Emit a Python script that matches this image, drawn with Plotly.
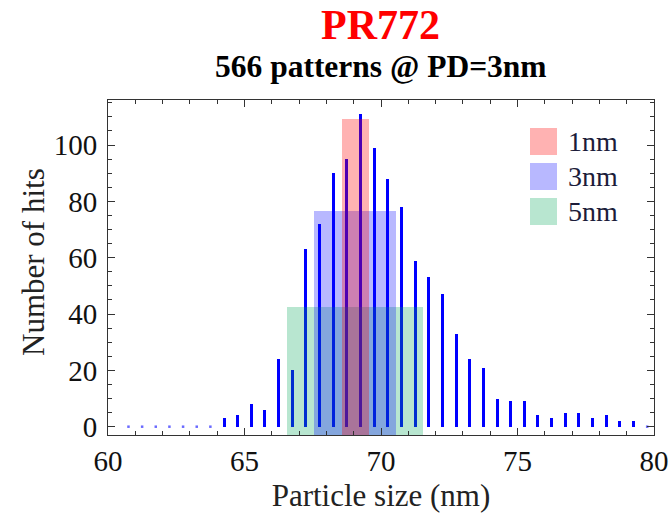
import plotly.graph_objects as go

# ---- data ----
bin_centers = [60.75, 61.25, 61.75, 62.25, 62.75, 63.25, 63.75,
               64.25, 64.75, 65.25, 65.75, 66.25, 66.75, 67.25, 67.75,
               68.25, 68.75, 69.25, 69.75, 70.25, 70.75, 71.25, 71.75,
               72.25, 72.75, 73.25, 73.75, 74.25, 74.75, 75.25, 75.75,
               76.25, 76.75, 77.25, 77.75, 78.25, 78.75, 79.25, 79.75]
hits = [0, 0, 0, 0, 0, 0, 0,
        3, 4, 8, 6, 24, 20, 63, 72,
        90, 95, 111, 99, 88, 78, 59, 53,
        47, 33, 24, 21, 10, 9, 9, 4,
        3, 5, 5, 3, 4, 2, 2, 0]

window_labels = ["1nm", "3nm", "5nm"]
window_center = [69.06, 69.05, 69.05]
window_width = [1.0, 3.0, 5.0]
window_height = [109.2, 76.5, 42.5]
window_colors = ["rgba(255,0,0,0.30)", "rgba(0,0,255,0.28)", "rgba(0,165,85,0.28)"]

x_ticks = [60, 65, 70, 75, 80]
y_ticks = [0, 20, 40, 60, 80, 100]

title_text = "PR772"
subtitle_text = "566 patterns @ PD=3nm"
x_title = "Particle size (nm)"
y_title = "Number of hits"

# ---- layout constants ----
W, H = 672, 515
ML, MR, MT, MB = 108, 18, 100, 80
YMIN, YMAX = -2.95, 116.0
SERIF = "Liberation Serif, Times New Roman, serif"

fig = go.Figure()

nz_x = [x for x, v in zip(bin_centers, hits) if v > 0]
nz_y = [v for v in hits if v > 0]
z_x = [x for x, v in zip(bin_centers, hits) if v == 0]
z_y = [v for v in hits if v == 0]

fig.add_trace(go.Bar(x=nz_x, y=nz_y, width=0.11, marker=dict(color="#0000ff", line=dict(width=0)),
                     showlegend=False))
fig.add_trace(go.Scatter(x=z_x, y=z_y, mode="markers",
                         marker=dict(color="#6a6aff", size=2.5, symbol="square"),
                         showlegend=False))

# window rectangles (drawn from bottom of frame)
for i in [2, 1, 0]:
    fig.add_trace(go.Bar(x=[window_center[i]], y=[window_height[i] - YMIN], base=YMIN,
                         width=window_width[i],
                         marker=dict(color=window_colors[i], line=dict(width=0)),
                         showlegend=False))

pw = W - ML - MR
ph = H - MT - MB
def px_x(px):
    return (px - ML) / pw
def px_y(py):
    return (H - MB - py) / ph

# manual legend
sw_tops = [128, 163, 198]
for i, lab in enumerate(window_labels):
    t = sw_tops[i]
    fig.add_shape(type="rect", xref="paper", yref="paper",
                  x0=px_x(530), x1=px_x(557), y0=px_y(t + 27), y1=px_y(t),
                  fillcolor=window_colors[i], line=dict(width=0))
    fig.add_annotation(xref="paper", yref="paper", x=px_x(566), y=px_y(t + 13.5),
                       text=lab, showarrow=False, xanchor="left", yanchor="middle",
                       font=dict(family=SERIF, size=28, color="#1c1c3a"))

# titles
fig.add_annotation(xref="paper", yref="paper", x=px_x(380), y=px_y(25),
                   text="<b>%s</b>" % title_text, showarrow=False,
                   xanchor="center", yanchor="middle",
                   font=dict(family=SERIF, size=42, color="#ff0000"))
fig.add_annotation(xref="paper", yref="paper", x=px_x(381), y=px_y(66),
                   text="<b>%s</b>" % subtitle_text, showarrow=False,
                   xanchor="center", yanchor="middle",
                   font=dict(family=SERIF, size=31.5, color="#000000"))

# y axis title
fig.add_annotation(xref="paper", yref="paper", x=px_x(33), y=px_y(262),
                   text=y_title, textangle=-90, showarrow=False,
                   xanchor="center", yanchor="middle",
                   font=dict(family=SERIF, size=31, color="#222222"))

axis_common = dict(showline=True, linecolor="#333333", linewidth=1, mirror="allticks",
                   ticks="inside", ticklen=7, tickcolor="#333333", tickwidth=1,
                   showgrid=False, zeroline=False, automargin=False,
                   tickfont=dict(family=SERIF, size=29, color="#111111"))

fig.update_layout(
    width=W, height=H,
    margin=dict(l=ML, r=MR, t=MT, b=MB, autoexpand=False),
    paper_bgcolor="white", plot_bgcolor="white",
    barmode="overlay",
    bargap=0,
    xaxis=dict(range=[60, 80], tickvals=x_ticks,
               minor=dict(dtick=1, ticks="inside", ticklen=4, tickcolor="#333333"),
               title=dict(text=x_title, standoff=8,
                          font=dict(family=SERIF, size=31, color="#222222")),
               **axis_common),
    yaxis=dict(range=[YMIN, YMAX], tickvals=y_ticks,
               minor=dict(dtick=5, ticks="inside", ticklen=4, tickcolor="#333333"),
               ticklabelstandoff=4,
               **axis_common),
)

fig.write_html("out.html")
